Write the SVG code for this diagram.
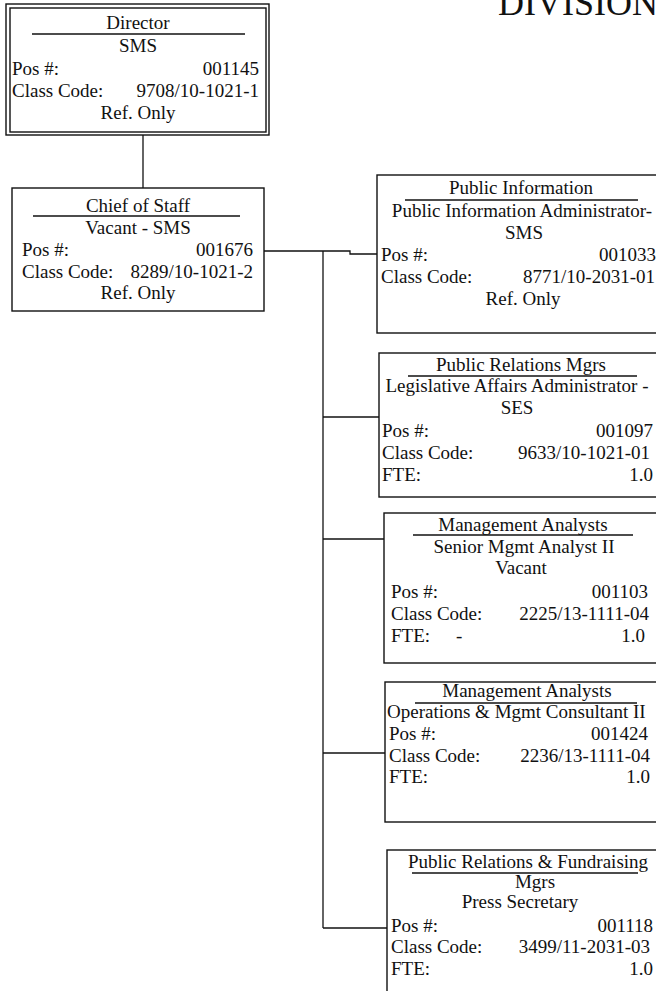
<svg xmlns="http://www.w3.org/2000/svg" width="656" height="991" viewBox="0 0 656 991">
  <style>
    text { font-family: "Liberation Serif", "Times New Roman", serif; font-size: 19px; fill: #111; }
    .c { text-anchor: middle; }
    .r { text-anchor: end; }
    .title { font-size: 36px; }
    .box { fill: #fff; stroke: #111; stroke-width: 1.4; }
    .rule { stroke: #111; stroke-width: 1.3; }
    .wire { fill: none; stroke: #111; stroke-width: 1.3; }
  </style>
  <rect width="656" height="991" fill="#fff"/>

  <text class="title" x="498" y="15">DIVISION</text>

  <!-- reporting lines -->
  <g id="connectors">
    <line class="wire" x1="143" y1="135" x2="143" y2="188"/>
    <polyline class="wire" points="264,251 350,251 350,254 377,254"/>
    <line class="wire" x1="323" y1="251" x2="323" y2="928"/>
    <line class="wire" x1="323" y1="417" x2="379" y2="417"/>
    <line class="wire" x1="323" y1="539" x2="384" y2="539"/>
    <line class="wire" x1="323" y1="753" x2="385" y2="753"/>
    <line class="wire" x1="323" y1="928" x2="387" y2="928"/>
  </g>

  <g id="director">
    <rect class="box" x="6" y="4" width="263" height="131"/>
    <rect class="box" x="10" y="8" width="256" height="124"/>
    <text class="c" x="138" y="29">Director</text>
    <line class="rule" x1="32" y1="34" x2="245" y2="34"/>
    <text class="c" x="138" y="52">SMS</text>
    <text x="12" y="75">Pos #:</text>
    <text class="r" x="259" y="75">001145</text>
    <text x="12" y="97">Class Code:</text>
    <text class="r" x="259" y="97">9708/10-1021-1</text>
    <text class="c" x="138" y="119">Ref. Only</text>
  </g>

  <g id="chief-of-staff">
    <rect class="box" x="12" y="188" width="252" height="123"/>
    <text class="c" x="138" y="212">Chief of Staff</text>
    <line class="rule" x1="33" y1="216" x2="240" y2="216"/>
    <text class="c" x="138" y="234">Vacant - SMS</text>
    <text x="22" y="256">Pos #:</text>
    <text class="r" x="253" y="256">001676</text>
    <text x="22" y="278">Class Code:</text>
    <text class="r" x="253" y="278">8289/10-1021-2</text>
    <text class="c" x="138" y="299">Ref. Only</text>
  </g>

  <g id="public-information">
    <rect class="box" x="377" y="175" width="300" height="158"/>
    <text class="c" x="521" y="194">Public Information</text>
    <line class="rule" x1="405" y1="200" x2="638" y2="200"/>
    <text class="c" x="522" y="217">Public Information Administrator-</text>
    <text class="c" x="524" y="239">SMS</text>
    <text x="381" y="261">Pos #:</text>
    <text class="r" x="656" y="261">001033</text>
    <text x="381" y="283">Class Code:</text>
    <text class="r" x="655" y="283">8771/10-2031-01</text>
    <text class="c" x="523" y="305">Ref. Only</text>
  </g>

  <g id="public-relations-mgrs">
    <rect class="box" x="379" y="353" width="300" height="144"/>
    <text class="c" x="521" y="371">Public Relations Mgrs</text>
    <line class="rule" x1="408" y1="376" x2="637" y2="376"/>
    <text class="c" x="517" y="392">Legislative Affairs Administrator -</text>
    <text class="c" x="517" y="414">SES</text>
    <text x="382" y="437">Pos #:</text>
    <text class="r" x="653" y="437">001097</text>
    <text x="382" y="459">Class Code:</text>
    <text class="r" x="650" y="459">9633/10-1021-01</text>
    <text x="382" y="481">FTE:</text>
    <text class="r" x="653" y="481">1.0</text>
  </g>

  <g id="senior-mgmt-analyst">
    <rect class="box" x="384" y="513" width="300" height="150"/>
    <text class="c" x="523" y="531">Management Analysts</text>
    <line class="rule" x1="413" y1="535" x2="633" y2="535"/>
    <text class="c" x="524" y="553">Senior Mgmt Analyst II</text>
    <text class="c" x="521" y="574">Vacant</text>
    <text x="391" y="598">Pos #:</text>
    <text class="r" x="648" y="598">001103</text>
    <text x="391" y="620">Class Code:</text>
    <text class="r" x="649" y="620">2225/13-1111-04</text>
    <text x="391" y="642">FTE:</text>
    <text x="456" y="642">-</text>
    <text class="r" x="645" y="642">1.0</text>
  </g>

  <g id="operations-mgmt-consultant">
    <rect class="box" x="385" y="682" width="300" height="140"/>
    <text class="c" x="527" y="697">Management Analysts</text>
    <line class="rule" x1="415" y1="703" x2="637" y2="703"/>
    <text x="387" y="718">Operations &amp; Mgmt Consultant II</text>
    <text x="389" y="740">Pos #:</text>
    <text class="r" x="648" y="740">001424</text>
    <text x="389" y="762">Class Code:</text>
    <text class="r" x="650" y="762">2236/13-1111-04</text>
    <text x="389" y="783">FTE:</text>
    <text class="r" x="650" y="783">1.0</text>
  </g>

  <g id="press-secretary">
    <rect class="box" x="387" y="850" width="300" height="160"/>
    <text class="c" x="528" y="868">Public Relations &amp; Fundraising</text>
    <line class="rule" x1="412" y1="873" x2="638" y2="873"/>
    <text class="c" x="535" y="888">Mgrs</text>
    <text class="c" x="520" y="908">Press Secretary</text>
    <text x="391" y="932">Pos #:</text>
    <text class="r" x="653" y="932">001118</text>
    <text x="391" y="953">Class Code:</text>
    <text class="r" x="650" y="953">3499/11-2031-03</text>
    <text x="391" y="975">FTE:</text>
    <text class="r" x="653" y="975">1.0</text>
  </g>
</svg>
